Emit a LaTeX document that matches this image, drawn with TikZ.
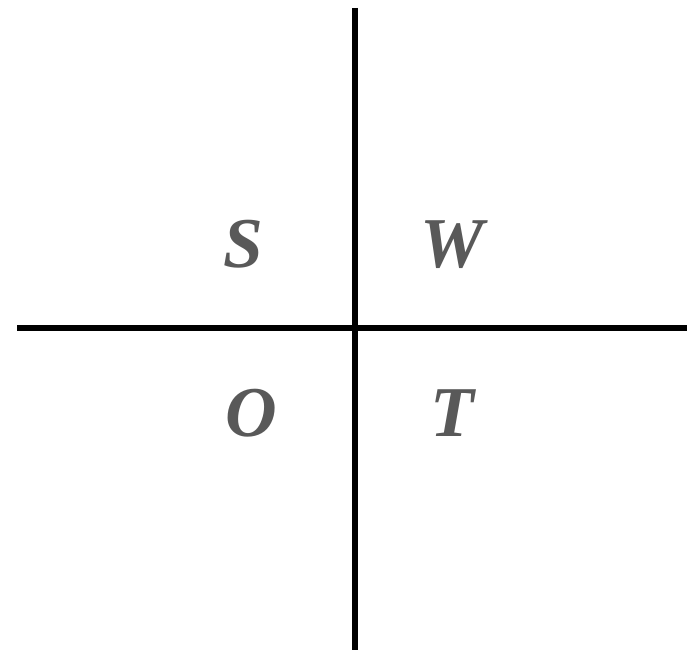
\documentclass[tikz,border=0pt]{standalone}
\usepackage{fontspec}
\setmainfont{Liberation Serif}
\usepackage{tikz}
\definecolor{lettergray}{HTML}{595959}
\tikzset{
  axis/.style={line width=4.3pt, black},
  quad/.style={anchor=base, inner sep=0pt, text=lettergray,
               font=\fontsize{61}{63}\selectfont\bfseries\itshape}
}

\begin{document}
\begin{tikzpicture}[x=0.03cm, y=-0.03cm]
\useasboundingbox (0,0) rectangle (687,652);
\coordinate (top) at (355,8);
\coordinate (bot) at (355,650);
\coordinate (lft) at (17,328);
\coordinate (rgt) at (687,328);
\draw[axis] (top) -- (bot);
\draw[axis] (lft) -- (rgt);
\node[quad] (S) at (243,268) {S};
\node[quad] (W) at (452,268) {W};
\node[quad] (O) at (251,437) {O};
\node[quad] (T) at (452,437) {T};
\end{tikzpicture}
\end{document}
